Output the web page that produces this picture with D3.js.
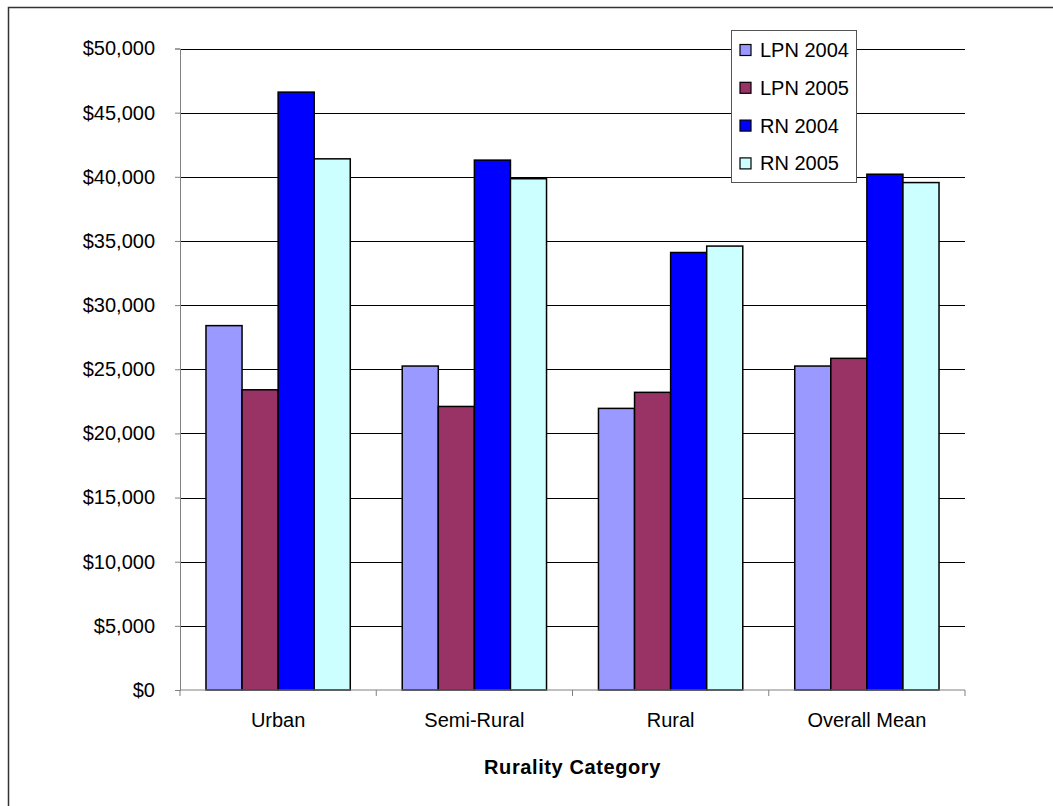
<!DOCTYPE html>
<html>
<head>
<meta charset="utf-8">
<script src="https://cdn.jsdelivr.net/npm/d3@7"></script>
<style>
  body { margin: 0; background: #fff; overflow: hidden; }
  text { font-family: "Liberation Sans", Arial, sans-serif; fill: #000; }
</style>
</head>
<body>
<div id="chart"></div>
<script>
"use strict";

// chart data
const categories = ["Urban", "Semi-Rural", "Rural", "Overall Mean"];
const seriesNames = ["LPN 2004", "LPN 2005", "RN 2004", "RN 2005"];
const seriesColors = ["#9999ff", "#993366", "#0000ff", "#ccffff"];
const lpn2004 = [28400, 25250, 21950, 25250];
const lpn2005 = [23400, 22100, 23200, 25850];
const rn2004 = [46600, 41300, 34100, 40200];
const rn2005 = [41400, 39850, 34600, 39550];
const yTicks = [0, 5000, 10000, 15000, 20000, 25000, 30000, 35000, 40000, 45000, 50000];

const allSeries = [lpn2004, lpn2005, rn2004, rn2005];

const width = 1053, height = 806;
const margin = { left: 180, right: 88, top: 48.5, bottom: 116 };

const svg = d3.select("#chart")
   .append("svg")
   .attr("width", width)
   .attr("height", height);

// outer frame (runs off the right and bottom edges)
svg.append("rect")
   .attr("x", 8.5).attr("y", 7.5)
   .attr("width", 1200).attr("height", 1000)
   .attr("fill", "none")
   .attr("stroke", "#333")
   .attr("stroke-width", 1.5);

const x = d3.scaleBand()
   .domain(categories)
   .range([margin.left, width - margin.right]);

const xInner = d3.scaleBand()
   .domain(seriesNames)
   .range([0, x.bandwidth()])
   .paddingOuter(0.72)
   .paddingInner(0);

const y = d3.scaleLinear()
   .domain([0, 50000])
   .range([height - margin.bottom, margin.top]);

// gridlines
svg.append("g")
   .selectAll("line")
   .data(yTicks.filter(d => d > 0))
   .join("line")
   .attr("x1", margin.left)
   .attr("x2", width - margin.right)
   .attr("y1", d => Math.round(y(d)) + 0.5)
   .attr("y2", d => Math.round(y(d)) + 0.5)
   .attr("stroke", "#000")
   .attr("stroke-width", 1);

// bars
const groups = svg.append("g")
   .selectAll("g")
   .data(seriesNames)
   .join("g")
   .attr("fill", (d, i) => seriesColors[i]);

groups.selectAll("rect")
   .data((s, i) => categories.map((c, j) => ({ cat: c, series: s, value: allSeries[i][j] })))
   .join("rect")
   .attr("x", d => x(d.cat) + xInner(d.series))
   .attr("y", d => y(d.value))
   .attr("width", xInner.bandwidth())
   .attr("height", d => y(0) - y(d.value))
   .attr("stroke", "#000")
   .attr("stroke-width", 1.5);

// y axis
const yAxis = d3.axisLeft(y)
   .tickValues(yTicks)
   .tickSize(5)
   .tickPadding(20)
   .tickFormat(d => "$" + d3.format(",")(d));

const yg = svg.append("g")
   .attr("transform", `translate(${margin.left},0)`)
   .call(yAxis);
yg.select(".domain").attr("stroke", "#808080");
yg.selectAll(".tick line").attr("stroke", "#808080");
yg.selectAll(".tick text")
   .attr("font-size", 20)
   .attr("font-family", "Liberation Sans, Arial, sans-serif")
   .attr("fill", "#000");

// x axis
const xg = svg.append("g")
   .attr("transform", `translate(0,${y(0)})`);
xg.append("line")
   .attr("x1", margin.left)
   .attr("x2", width - margin.right)
   .attr("stroke", "#808080");
xg.selectAll(".xtick")
   .data(categories.concat(["end"]))
   .join("line")
   .attr("class", "xtick")
   .attr("x1", (d, i) => margin.left + i * x.step())
   .attr("x2", (d, i) => margin.left + i * x.step())
   .attr("y1", 0)
   .attr("y2", 6)
   .attr("stroke", "#808080");
xg.selectAll(".xlabel")
   .data(categories)
   .join("text")
   .attr("class", "xlabel")
   .attr("x", d => x(d) + x.bandwidth() / 2)
   .attr("y", 37)
   .attr("text-anchor", "middle")
   .attr("font-size", 20)
   .text(d => d);

// axis title
svg.append("text")
   .attr("x", (margin.left + width - margin.right) / 2)
   .attr("y", 774)
   .attr("text-anchor", "middle")
   .attr("font-size", 20)
   .attr("font-weight", "bold")
   .attr("letter-spacing", 0.6)
   .text("Rurality Category");

// legend
const legend = svg.append("g").attr("transform", "translate(731,30)");
legend.append("rect")
   .attr("x", 0.5).attr("y", 0.5)
   .attr("width", 125).attr("height", 152)
   .attr("fill", "#fff")
   .attr("stroke", "#555")
   .attr("stroke-width", 1);
const items = legend.selectAll(".item")
   .data(seriesNames)
   .join("g")
   .attr("class", "item")
   .attr("transform", (d, i) => `translate(9,${20 + i * 37.8})`);
items.append("rect")
   .attr("x", 0).attr("y", -5.5)
   .attr("width", 11).attr("height", 11)
   .attr("fill", (d, i) => seriesColors[i])
   .attr("stroke", "#000")
   .attr("stroke-width", 1.2);
items.append("text")
   .attr("x", 20)
   .attr("y", 7)
   .attr("font-size", 20)
   .text(d => d);
</script>
</body>
</html>
